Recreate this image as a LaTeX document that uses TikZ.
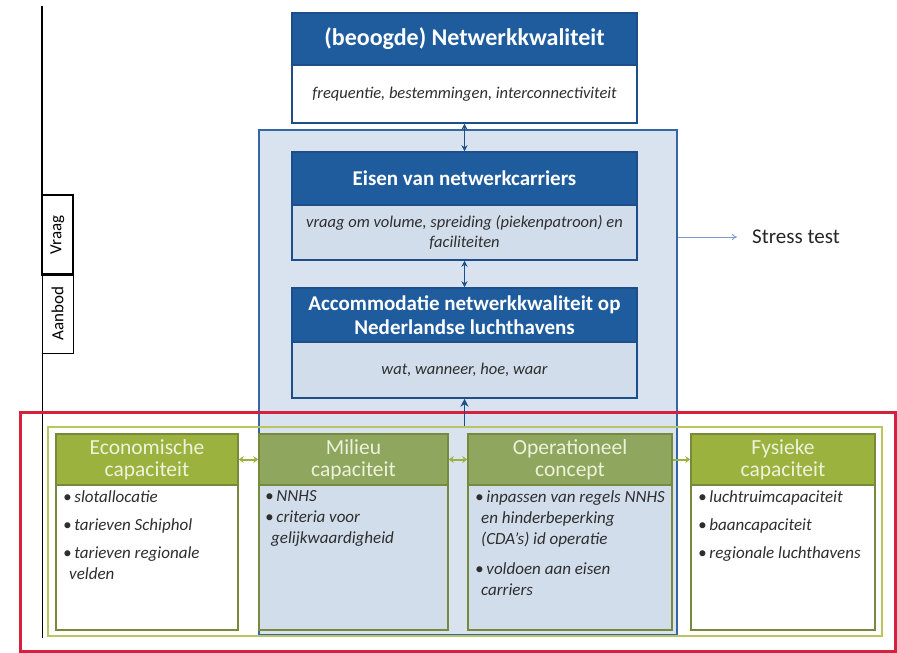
\documentclass[tikz,border=0pt]{standalone}
\usepackage{fontspec}
\setmainfont{Carlito}
\usetikzlibrary{arrows.meta}
\definecolor{bband}{HTML}{1F5C9E}
\definecolor{bborder}{HTML}{1E4E8A}
\definecolor{contfill}{HTML}{D9E3F0}
\definecolor{contline}{HTML}{3565A5}
\definecolor{bodyblue}{HTML}{D2DDEC}
\definecolor{gband}{HTML}{9CB23F}
\definecolor{gbandb}{HTML}{8EA65E}
\definecolor{gborder}{HTML}{77893A}
\definecolor{gouter}{HTML}{B9C65E}
\definecolor{gtext}{HTML}{EDF2DC}
\definecolor{redline}{HTML}{D4213D}
\definecolor{bodytext}{HTML}{2E2E2E}
\definecolor{starrowc}{HTML}{7D9ACB}
\begin{document}
\begin{tikzpicture}[x=1pt,y=-1pt,
  btitle/.style={draw=bborder, line width=1.5pt, fill=bband, text=white, font=\fontsize{21}{24}\selectfont\bfseries, align=center, inner sep=2pt},
  bbody/.style={draw=bborder, line width=1.5pt, fill=bodyblue, text=bodytext, font=\fontsize{16.5}{20}\selectfont\itshape, align=center, inner sep=2pt},
  gtitle/.style={draw=gborder, line width=1.5pt, fill=gband, text=gtext, font=\fontsize{21.5}{24}\selectfont, align=center, inner sep=1pt, minimum height=51pt},
  gbody/.style={draw=gborder, line width=1.5pt, fill=white, minimum height=145pt},
  gtxt/.style={anchor=north west, text=bodytext, font=\fontsize{17}{21}\selectfont\itshape, align=left, inner sep=0pt},
  barrow/.style={{Stealth[length=6pt,width=6pt]}-{Stealth[length=6pt,width=6pt]}, draw=bborder, line width=1.5pt},
  garrow/.style={{Stealth[length=5pt,width=7pt]}-{Stealth[length=5pt,width=7pt]}, draw=gband, line width=2pt},
  sidebox/.style={draw=black, rotate=90, minimum width=80pt, minimum height=31pt, font=\fontsize{17}{20}\selectfont, inner sep=1pt}
]
\useasboundingbox (0,0) rectangle (897,653);

% left axis
\coordinate (ltop) at (42,6);
\coordinate (lmid) at (42,274);
\coordinate (lbot) at (42,638);
\draw[line width=1.6pt] (ltop) -- (lmid);
\draw[line width=0.8pt] (lmid) -- (lbot);
\node[sidebox, line width=2pt] (vraag) at (57.5,235) {Vraag};
\node[sidebox, line width=0.8pt] (aanbod) at (57.5,313.5) {Aanbod};

% container
\node[draw=contline, line width=1.5pt, fill=contfill, minimum width=418pt, minimum height=505pt, inner sep=0pt] (cont) at (468,382.5) {};

% olive outer and red frame
\node[draw=gouter, line width=2pt, minimum width=834pt, minimum height=209pt, inner sep=0pt] (olive) at (465,531.5) {};
\node[draw=redline, line width=3pt, minimum width=875pt, minimum height=239pt, inner sep=0pt] (red) at (457.5,531.5) {};

% top box
\node[btitle, font=\fontsize{24}{27}\selectfont\bfseries, minimum width=345pt, minimum height=52pt] (nkT) at (464.5,39) {(beoogde) Netwerkkwaliteit};
\node[bbody, fill=white, minimum width=345pt, minimum height=58pt] (nkB) at (464.5,94) {frequentie, bestemmingen, interconnectiviteit};

% Eisen
\node[btitle, minimum width=345pt, minimum height=53pt] (eiT) at (464.5,178.5) {Eisen van netwerkcarriers};
\node[bbody, minimum width=345pt, minimum height=55pt] (eiB) at (464.5,232.5) {vraag om volume, spreiding (piekenpatroon) en\\faciliteiten};

% Accommodatie
\node[btitle, minimum width=345pt, minimum height=54pt] (acT) at (464.5,315) {Accommodatie netwerkkwaliteit op\\Nederlandse luchthavens};
\node[bbody, minimum width=345pt, minimum height=56pt] (acB) at (464.5,370) {wat, wanneer, hoe, waar};

% green boxes
\node[gbody, minimum width=182pt] (ecoB) at (147,557.5) {};
\node[gtitle, minimum width=182pt] (ecoT) at (147,459.5) {Economische\\[-2pt]capaciteit};
\node[gbody, fill=bodyblue, minimum width=189pt] (milB) at (353.5,557.5) {};
\node[gtitle, fill=gbandb, minimum width=189pt] (milT) at (353.5,459.5) {Milieu\\[-2pt]capaciteit};
\node[gbody, fill=bodyblue, minimum width=204pt] (opB) at (570,557.5) {};
\node[gtitle, fill=gbandb, minimum width=204pt] (opT) at (570,459.5) {Operationeel\\[-2pt]concept};
\node[gbody, minimum width=184pt] (fyB) at (783,557.5) {};
\node[gtitle, minimum width=184pt] (fyT) at (783,459.5) {Fysieke\\[-2pt]capaciteit};

\node[gtxt] (ecoX) at (63,490) {\textbullet\,slotallocatie\\[7pt]\textbullet\,tarieven Schiphol\\[7pt]\textbullet\,tarieven regionale\\\hspace*{6pt}velden};
\node[gtxt] (milX) at (265,490) {\textbullet\,NNHS\\\textbullet\,criteria voor\\\hspace*{6pt}gelijkwaardigheid};
\node[gtxt] (opX) at (475,490) {\textbullet\,inpassen van regels NNHS\\\hspace*{6pt}en hinderbeperking\\\hspace*{6pt}(CDA’s) id operatie\\[9pt]\textbullet\,voldoen aan eisen\\\hspace*{6pt}carriers};
\node[gtxt] (fyX) at (698,490) {\textbullet\,luchtruimcapaciteit\\[7pt]\textbullet\,baancapaciteit\\[7pt]\textbullet\,regionale luchthavens};

% blue connectors
\draw[barrow] (nkB.south) -- (eiT.north);
\draw[barrow] (eiB.south) -- (acT.north);
\draw[-{Stealth[length=8pt,width=8pt]}, draw=bborder, line width=1.5pt] (acB.south |- olive.north) -- (acB.south);

% green connectors
\draw[garrow] (ecoT.east) -- (milT.west);
\draw[garrow] (milT.east) -- (opT.west);
\draw[-{Stealth[length=5pt,width=7pt]}, draw=gband, line width=2pt] (opT.east) -- (fyT.west);

% stress test
\node[anchor=west, inner xsep=15pt, inner ysep=2pt, font=\fontsize{21}{24}\selectfont, text=black!85] (st) at (737,237) {Stress test};
\draw[-{To[length=5pt,width=6pt]}, draw=starrowc, line width=0.8pt] (cont.east |- st.west) -- (st.west);
\end{tikzpicture}
\end{document}
